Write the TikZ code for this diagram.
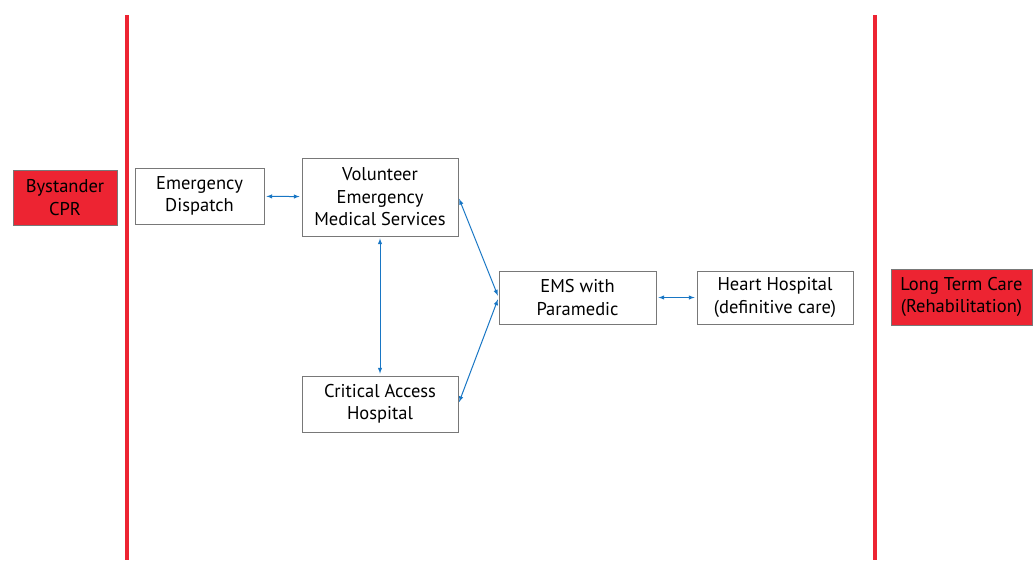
\documentclass[tikz,border=0pt]{standalone}
\usepackage{fontspec}
\setmainfont{PT Sans}
\usetikzlibrary{arrows}
\definecolor{cprred}{RGB}{237, 36, 50}
\definecolor{linkblue}{RGB}{24, 118, 196}
\definecolor{boxgray}{RGB}{120, 120, 120}

\begin{document}
\begin{tikzpicture}[x=1pt, y=-1pt,
					>=latex,   %default arrow tips
					box/.style={draw=boxgray, line width=0.8pt, fill=white, align=center, inner sep=0pt, font=\fontsize{18.5}{22.5}\selectfont},
					redbox/.style={box, fill=cprred},
					link/.style={<->, linkblue, line width=1pt, shorten >=2pt, shorten <=2pt},
					phase/.style={cprred, line width=4pt}]
					%picture area
					\useasboundingbox (0,0) rectangle (1036,560);
					% phase borders
					\draw[phase] (127,15) -- (127,560);
					\draw[phase] (875,15) -- (875,560);
					% boxes
					\node[redbox, minimum width=104pt, minimum height=55pt] (cpr) at (65,197.5) {Bystander\\CPR};
					\node[box, minimum width=129pt, minimum height=56pt] (dispatch) at (199.5,196) {Emergency\\Dispatch};
					\node[box, minimum width=156pt, minimum height=78pt] (vems) at (380,197) {Volunteer\\Emergency\\Medical Services};
					\node[box, minimum width=156pt, minimum height=56pt] (cah) at (380,404) {Critical Access\\Hospital};
					\node[box, minimum width=157pt, minimum height=53pt] (para) at (577.5,297.5) {EMS with\\Paramedic};
					\node[box, minimum width=156pt, minimum height=53pt] (heart) at (775,297.5) {Heart Hospital\\(definitive care)};
					\node[redbox, minimum width=141pt, minimum height=56pt] (ltc) at (961.5,297) {Long Term Care\\(Rehabilitation)};
					% connections
					\draw[link] (dispatch) -- (vems);
					\draw[link] (vems) -- (cah);
					\draw[link] (vems.east) -- (para.west);
					\draw[link] (cah.east) -- (para.west);
					\draw[link] (para) -- (heart);
				\end{tikzpicture}
\end{document}
